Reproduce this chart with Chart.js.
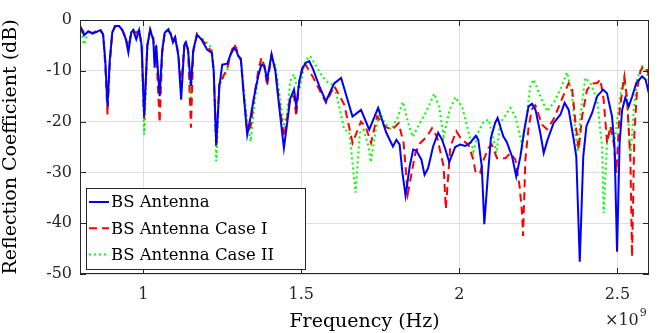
<!DOCTYPE html>
<html>
<head>
<meta charset="utf-8">
<script src="https://cdn.jsdelivr.net/npm/chart.js@4.4.1/dist/chart.umd.min.js"></script>
<style>
html,body{margin:0;padding:0;background:#fff;}
#wrap{width:664px;height:333px;position:relative;}
</style>
</head>
<body>
<div id="wrap"><canvas id="c" width="664" height="333"></canvas></div>
<script>
// Frequency in units of 1e9 Hz, reflection coefficient in dB
const freqBlue = [0.800,0.813,0.826,0.839,0.851,0.864,0.873,0.880,0.887,0.894,0.902,0.911,0.924,0.934,0.945,0.953,0.962,0.968,0.978,0.987,0.995,1.003,1.013,1.022,1.032,1.036,1.041,1.052,1.060,1.068,1.079,1.087,1.094,1.101,1.111,1.120,1.130,1.135,1.142,1.151,1.158,1.170,1.184,1.202,1.217,1.223,1.231,1.241,1.250,1.266,1.275,1.287,1.294,1.301,1.309,1.317,1.329,1.340,1.351,1.364,1.374,1.383,1.392,1.406,1.418,1.430,1.445,1.456,1.465,1.477,1.484,1.494,1.503,1.515,1.525,1.536,1.557,1.578,1.604,1.626,1.662,1.689,1.715,1.743,1.769,1.790,1.801,1.811,1.820,1.830,1.843,1.854,1.864,1.880,1.890,1.901,1.917,1.933,1.945,1.956,1.968,1.987,2.003,2.019,2.034,2.052,2.060,2.071,2.079,2.090,2.100,2.113,2.121,2.139,2.150,2.167,2.180,2.193,2.204,2.219,2.230,2.241,2.256,2.267,2.279,2.298,2.320,2.333,2.346,2.362,2.370,2.381,2.392,2.402,2.420,2.436,2.455,2.467,2.483,2.491,2.499,2.507,2.515,2.525,2.536,2.547,2.560,2.578,2.589,2.600];
const blueDb = [-1.2,-3.0,-2.2,-2.7,-2.4,-2.0,-2.8,-8,-17,-8,-2.5,-1.2,-1.2,-2,-3.8,-6.4,-2.5,-2,-3.8,-2,-5,-19,-5,-1.9,-4,-9.4,-5,-15,-6,-2.5,-1.9,-2.8,-4.4,-3.5,-7,-15.7,-5,-4.4,-6,-13,-6,-2.9,-3.8,-5.8,-6.5,-10,-24.6,-13,-8.8,-8.6,-7,-5.5,-6,-7.1,-7.6,-14,-22.6,-19,-15,-11,-8.8,-9,-11.7,-6.8,-10,-17,-25.2,-20,-15.5,-13.7,-17,-12,-9.5,-8.4,-8.1,-9.5,-13,-16,-12.5,-11.4,-19,-17.7,-21.6,-17.3,-22.2,-24.9,-23.6,-24.5,-30.1,-34.6,-28.8,-25.5,-25.7,-27.5,-30.5,-29.2,-24.9,-22.2,-23.5,-25.5,-28,-25,-24.5,-24.8,-24.2,-22.8,-23.6,-28.8,-40.2,-30.8,-23.2,-20.3,-19.3,-22.9,-24,-26.9,-30.8,-26.9,-22.2,-17,-16.5,-17.7,-22.2,-26.2,-23.6,-20.3,-18.6,-16.3,-17.7,-23.6,-26.9,-47.6,-26.9,-20.9,-18.3,-15,-13.7,-14.4,-19,-24.9,-45.6,-24.2,-17.7,-15.3,-17,-15,-12.4,-11.1,-11.7,-14.5];

const freqRed = [0.800,0.813,0.826,0.839,0.851,0.864,0.873,0.880,0.887,0.894,0.902,0.911,0.924,0.934,0.945,0.953,0.962,0.968,0.978,0.987,0.995,1.003,1.013,1.022,1.032,1.036,1.041,1.052,1.060,1.068,1.079,1.087,1.094,1.101,1.111,1.120,1.130,1.135,1.142,1.151,1.158,1.170,1.184,1.202,1.217,1.223,1.231,1.241,1.250,1.266,1.275,1.287,1.294,1.301,1.309,1.317,1.329,1.340,1.351,1.364,1.374,1.383,1.392,1.406,1.418,1.430,1.445,1.456,1.465,1.477,1.484,1.494,1.5095,1.5358,1.5782,1.6044,1.6361,1.6623,1.6889,1.7047,1.7206,1.7396,1.7658,1.7870,1.8079,1.8237,1.8370,1.8608,1.8766,1.8978,1.9136,1.9294,1.9503,1.9573,1.9715,1.9905,2.0079,2.0285,2.0443,2.0516,2.0655,2.0769,2.0918,2.1022,2.1193,2.1456,2.1614,2.1772,2.1908,2.1984,2.2016,2.2089,2.2193,2.2301,2.2405,2.2617,2.2775,2.2984,2.3250,2.3459,2.3566,2.3671,2.3775,2.3883,2.4041,2.4209,2.4358,2.4462,2.4566,2.4674,2.4778,2.4883,2.4968,2.5073,2.5180,2.5222,2.5307,2.5411,2.5465,2.5538,2.5623,2.5728,2.5813,2.5940,2.600];
const redDb = [-1.2,-2.5,-2.2,-2.6,-2.2,-1.8,-2.8,-9,-18.6,-9,-2.5,-1.2,-1.3,-2,-3.5,-5.5,-2.5,-2,-2.6,-2,-5,-19.5,-5,-1.9,-3.5,-7.5,-6,-20.2,-6.5,-2.5,-1.9,-2.8,-4,-3.3,-6.5,-13,-5,-4.2,-6,-21.2,-6.5,-2.7,-3.8,-5,-6.3,-10,-25,-12,-11.5,-9.5,-7,-4.7,-5.5,-7,-8,-14,-22,-21,-15,-10,-7.4,-9,-13,-6.8,-10,-16,-23,-19,-15,-15,-19,-12,-8.4,-11.1,-16.3,-13,-16.7,-24.2,-20,-21.2,-24.2,-19,-21,-21.6,-20.3,-24.2,-34.2,-26.2,-24.2,-22.9,-21.3,-23,-28.8,-37.2,-24.9,-21.9,-23.6,-24.5,-27.5,-30.1,-30.1,-27.5,-25.2,-24.5,-27.2,-27.2,-26.2,-27.5,-32.8,-38,-42.5,-27.5,-21,-17.5,-16.8,-20.6,-21.5,-19.5,-15.5,-12.4,-13.4,-20,-25.5,-19,-13.7,-12.5,-12.4,-11.7,-15.7,-24.2,-20.9,-24.2,-30.1,-17.7,-12.7,-11.1,-15.7,-27.5,-46.6,-22.2,-13.7,-10.1,-9.1,-9.8,-11];

const freqGreen = [0.800,0.813,0.826,0.839,0.851,0.864,0.873,0.880,0.887,0.894,0.902,0.911,0.924,0.934,0.945,0.953,0.962,0.968,0.978,0.987,0.995,1.003,1.013,1.022,1.032,1.036,1.041,1.052,1.060,1.068,1.079,1.087,1.094,1.101,1.111,1.120,1.130,1.135,1.142,1.151,1.158,1.170,1.184,1.202,1.217,1.223,1.231,1.241,1.250,1.266,1.275,1.287,1.294,1.301,1.309,1.317,1.329,1.340,1.351,1.364,1.374,1.383,1.392,1.406,1.418,1.430,1.445,1.456,1.465,1.477,1.484,1.494,1.5127,1.5285,1.5623,1.5782,1.6044,1.6256,1.6361,1.6519,1.6718,1.6851,1.6972,1.7130,1.7199,1.7342,1.7484,1.7636,1.7848,1.8060,1.8212,1.8370,1.8528,1.8734,1.8956,1.9209,1.9367,1.9503,1.9693,1.9873,2.0085,2.0244,2.0443,2.0611,2.0769,2.0927,2.1085,2.1171,2.1297,2.1614,2.1772,2.1994,2.2142,2.2247,2.2351,2.2563,2.2775,2.2984,2.3196,2.3408,2.3566,2.3671,2.3744,2.3851,2.3987,2.4146,2.4358,2.4516,2.4566,2.4674,2.4801,2.4905,2.5009,2.5117,2.5199,2.5307,2.5411,2.5516,2.5623,2.5782,2.5940,2.600];
const greenDb = [-1.2,-4.8,-2.3,-2.5,-2.3,-2.2,-2.8,-8,-17,-8,-2.3,-1.2,-1.2,-2,-3.5,-5,-2.2,-1.8,-2.5,-1.8,-6,-22.6,-6,-2.2,-3.8,-7,-5,-14,-6,-2.5,-1.5,-2.5,-4,-3.5,-6.5,-14,-5,-4.4,-6,-15.3,-6,-3,-3.5,-4.5,-5.5,-10,-27.8,-13,-11.7,-10,-7,-5.2,-5.5,-7,-8,-13,-20,-23.9,-17,-11,-8,-9,-12,-7,-9,-14,-21,-18,-12,-10.7,-12.5,-13.7,-8,-7.1,-10.7,-12,-13,-18.6,-21.6,-22,-34,-22.2,-21.6,-24.9,-28,-22.2,-18,-20.3,-21.6,-19,-16.1,-20,-23,-20.5,-18,-14.5,-17.3,-22.9,-17.7,-15.2,-17,-20.9,-25.9,-21.9,-20,-19.6,-23.6,-26.2,-20.3,-17.3,-19,-24.8,-18.3,-13,-11.7,-15,-18,-16.3,-13.7,-10.3,-14.7,-22.2,-26,-17.7,-11.4,-12.4,-15.7,-24.9,-38,-24.2,-20.9,-24.2,-19,-13.7,-11.7,-15,-27.5,-17.7,-11.7,-9.1,-10.4,-12.4];

const seriesNames = ['BS Antenna','BS Antenna Case I','BS Antenna Case II'];
const xTickValues = [1, 1.5, 2, 2.5];
const yTickValues = [-50, -40, -30, -20, -10, 0];
const xTitle = 'Frequency (Hz)';
const yTitle = 'Reflection Coefficient (dB)';
const xMultiplier = '\u00d710';
const xMultiplierExp = '9';

const FONT = "'DejaVu Serif', serif";
const AX = '#262626';

function pts(fx, fy){ return fx.map((f,i)=>({x:f, y:fy[i]})); }

const frame = {
  id:'frame',
  afterDatasetsDraw(chart){
    const {ctx, chartArea:a} = chart;
    ctx.save();
    ctx.strokeStyle = AX; ctx.lineWidth = 1;
    ctx.strokeRect(a.left+0.5, a.top+0.5, a.right-a.left-1, a.bottom-a.top-1);
    // inward tick marks
    const xs = chart.scales.x, ys = chart.scales.y;
    ctx.beginPath();
    xTickValues.forEach(v=>{const p=Math.round(xs.getPixelForValue(v))+0.5; ctx.moveTo(p,a.bottom); ctx.lineTo(p,a.bottom-6); ctx.moveTo(p,a.top); ctx.lineTo(p,a.top+6);});
    yTickValues.forEach(v=>{const p=Math.round(ys.getPixelForValue(v))+0.5; ctx.moveTo(a.left,p); ctx.lineTo(a.left+6,p); ctx.moveTo(a.right,p); ctx.lineTo(a.right-6,p);});
    ctx.stroke();
    // legend box
    const bx = a.left+6, by = a.bottom-86, bw = 219, bh = 81;
    ctx.fillStyle = '#fff';
    ctx.fillRect(bx, by, bw, bh);
    ctx.strokeRect(bx+0.5, by+0.5, bw, bh);
    ctx.font = "16.5px " + FONT;
    ctx.textBaseline = 'middle';
    chart.data.datasets.forEach((ds,i)=>{
      const yy = by + 14 + i*26.3;
      ctx.save();
      ctx.strokeStyle = ds.borderColor; ctx.lineWidth = ds.borderWidth;
      ctx.setLineDash(ds.borderDash || []);
      ctx.beginPath(); ctx.moveTo(bx+3, yy); ctx.lineTo(bx+23, yy); ctx.stroke();
      ctx.restore();
      ctx.fillStyle = '#000';
      ctx.fillText(ds.label, bx+25, yy+1);
    });
    // multiplier
    ctx.fillStyle = '#262626';
    ctx.font = "16px " + FONT;
    ctx.textBaseline = 'alphabetic';
    ctx.fillText(xMultiplier, a.right-44, chart.height-8);
    const w = ctx.measureText(xMultiplier).width;
    ctx.font = "11px " + FONT;
    ctx.fillText(xMultiplierExp, a.right-44+w+1, chart.height-17);
    ctx.restore();
  }
};

new Chart(document.getElementById('c'), {
  type: 'line',
  data: {
    datasets: [
      {label: seriesNames[0], data: pts(freqBlue, blueDb), borderColor:'#0000ff', borderWidth:2, pointRadius:0, tension:0},
      {label: seriesNames[1], data: pts(freqRed, redDb), borderColor:'#ff0000', borderWidth:2, borderDash:[8,5], pointRadius:0, tension:0},
      {label: seriesNames[2], data: pts(freqGreen, greenDb), borderColor:'#00ff00', borderWidth:2, borderDash:[2,3], pointRadius:0, tension:0}
    ]
  },
  options: {
    responsive:false, animation:false, devicePixelRatio:1,
    layout:{padding:{left:0, right:15, top:20, bottom:0}},
    plugins:{legend:{display:false}, tooltip:{enabled:false}},
    scales:{
      x:{type:'linear', min:0.8, max:2.6,
        afterBuildTicks(s){ s.ticks = xTickValues.map(v=>({value:v})); },
        afterFit(s){ s.height = 59; },
        grid:{color:'#dfdfdf', drawTicks:false, lineWidth:1},
        border:{display:false},
        ticks:{color:'#262626', font:{family:FONT, size:16}, padding:11, maxRotation:0, autoSkip:false, callback:v=>String(v)},
        title:{display:true, text:xTitle, color:'#000', font:{family:FONT, size:19}, padding:{top:0, bottom:0}}
      },
      y:{type:'linear', min:-50, max:0,
        afterBuildTicks(s){ s.ticks = yTickValues.map(v=>({value:v})); },
        afterFit(s){ s.width = 80; },
        grid:{color:'#dfdfdf', drawTicks:false, lineWidth:1},
        border:{display:false},
        ticks:{color:'#262626', font:{family:FONT, size:16}, padding:8, autoSkip:false, callback:v=>String(v)},
        title:{display:true, text:yTitle, color:'#000', font:{family:FONT, size:19}, padding:{top:0, bottom:2}}
      }
    }
  },
  plugins:[frame]
});
</script>
</body>
</html>
